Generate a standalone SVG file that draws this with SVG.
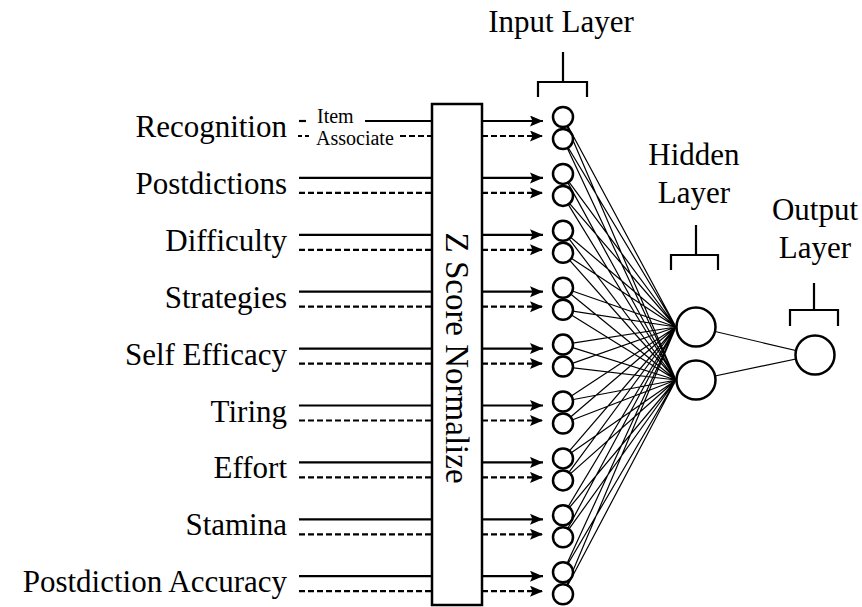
<svg xmlns="http://www.w3.org/2000/svg" width="862" height="607" viewBox="0 0 862 607">
<style>
text{font-family:"Liberation Serif","Times New Roman",serif;fill:#000}
.lbl{font-size:31px;text-anchor:end}
.ttl{font-size:31px;text-anchor:middle}
.sm{font-size:20px}
.in{stroke:#000;stroke-width:2.2;fill:none}
.dash{stroke-dasharray:6 3}
.arr{marker-end:url(#ah)}
.w{stroke:#000;stroke-width:1.2;fill:none}
.nd{fill:#fff;stroke:#000;stroke-width:2.5}
.br{fill:none;stroke:#000;stroke-width:2.2}
</style>
<defs>
<marker id="ah" markerUnits="userSpaceOnUse" markerWidth="14" markerHeight="12" refX="13" refY="5.5" orient="auto">
<path d="M0,0 L13,5.5 L0,11 L2.5,5.5 z" fill="#000"/>
</marker>
</defs>
<rect width="862" height="607" fill="#fff"/>

<g id="connectors">
<!-- input lines to Z box -->
<line class="in" x1="299" y1="121" x2="306" y2="121"/>
<line class="in" x1="365" y1="121" x2="433" y2="121"/>
<line class="in dash" x1="298" y1="136" x2="309" y2="136" style="stroke-dasharray:4 3"/>
<line class="in dash" x1="400" y1="136" x2="433" y2="136"/>
<line class="in" x1="299" y1="177.9" x2="433" y2="177.9"/>
<line class="in dash" x1="299" y1="192.9" x2="433" y2="192.9"/>
<line class="in" x1="299" y1="234.8" x2="433" y2="234.8"/>
<line class="in dash" x1="299" y1="249.8" x2="433" y2="249.8"/>
<line class="in" x1="299" y1="291.7" x2="433" y2="291.7"/>
<line class="in dash" x1="299" y1="306.7" x2="433" y2="306.7"/>
<line class="in" x1="299" y1="348.6" x2="433" y2="348.6"/>
<line class="in dash" x1="299" y1="363.6" x2="433" y2="363.6"/>
<line class="in" x1="299" y1="405.5" x2="433" y2="405.5"/>
<line class="in dash" x1="299" y1="420.5" x2="433" y2="420.5"/>
<line class="in" x1="299" y1="462.4" x2="433" y2="462.4"/>
<line class="in dash" x1="299" y1="477.4" x2="433" y2="477.4"/>
<line class="in" x1="299" y1="519.3" x2="433" y2="519.3"/>
<line class="in dash" x1="299" y1="534.3" x2="433" y2="534.3"/>
<line class="in" x1="299" y1="576.2" x2="433" y2="576.2"/>
<line class="in dash" x1="299" y1="591.2" x2="433" y2="591.2"/>
<!-- arrows Z box to input nodes -->
<line class="in arr" x1="482" y1="121" x2="543" y2="121"/>
<line class="in dash arr" x1="482" y1="136" x2="543" y2="136"/>
<line class="in arr" x1="482" y1="177.9" x2="543" y2="177.9"/>
<line class="in dash arr" x1="482" y1="192.9" x2="543" y2="192.9"/>
<line class="in arr" x1="482" y1="234.8" x2="543" y2="234.8"/>
<line class="in dash arr" x1="482" y1="249.8" x2="543" y2="249.8"/>
<line class="in arr" x1="482" y1="291.7" x2="543" y2="291.7"/>
<line class="in dash arr" x1="482" y1="306.7" x2="543" y2="306.7"/>
<line class="in arr" x1="482" y1="348.6" x2="543" y2="348.6"/>
<line class="in dash arr" x1="482" y1="363.6" x2="543" y2="363.6"/>
<line class="in arr" x1="482" y1="405.5" x2="543" y2="405.5"/>
<line class="in dash arr" x1="482" y1="420.5" x2="543" y2="420.5"/>
<line class="in arr" x1="482" y1="462.4" x2="543" y2="462.4"/>
<line class="in dash arr" x1="482" y1="477.4" x2="543" y2="477.4"/>
<line class="in arr" x1="482" y1="519.3" x2="543" y2="519.3"/>
<line class="in dash arr" x1="482" y1="534.3" x2="543" y2="534.3"/>
<line class="in arr" x1="482" y1="576.2" x2="543" y2="576.2"/>
<line class="in dash arr" x1="482" y1="591.2" x2="543" y2="591.2"/>
<!-- input to hidden weights -->
<path class="w" d="M563,117L676,327M563,117L676,380M563,139L676,327M563,139L676,380M563,173.9L676,327M563,173.9L676,380M563,195.9L676,327M563,195.9L676,380M563,230.8L676,327M563,230.8L676,380M563,252.8L676,327M563,252.8L676,380M563,287.7L676,327M563,287.7L676,380M563,309.7L676,327M563,309.7L676,380M563,344.6L676,327M563,344.6L676,380M563,366.6L676,327M563,366.6L676,380M563,401.5L676,327M563,401.5L676,380M563,423.5L676,327M563,423.5L676,380M563,458.4L676,327M563,458.4L676,380M563,480.4L676,327M563,480.4L676,380M563,515.3L676,327M563,515.3L676,380M563,537.3L676,327M563,537.3L676,380M563,572.2L676,327M563,572.2L676,380M563,594.2L676,327M563,594.2L676,380"/>
<!-- hidden to output -->
<path class="w" d="M696,327L815,355M696,380L815,355"/>
</g>

<g id="labels">
<text class="lbl" x="287" y="137">Recognition</text>
<text class="sm" x="317" y="123">Item</text>
<text class="sm" x="316" y="145">Associate</text>
<text class="lbl" x="287" y="193.9">Postdictions</text>
<text class="lbl" x="287" y="250.8">Difficulty</text>
<text class="lbl" x="287" y="307.7">Strategies</text>
<text class="lbl" x="287" y="364.6">Self Efficacy</text>
<text class="lbl" x="287" y="421.5">Tiring</text>
<text class="lbl" x="287" y="478.4">Effort</text>
<text class="lbl" x="287" y="535.3">Stamina</text>
<text class="lbl" x="287" y="592.2">Postdiction Accuracy</text>
</g>

<g id="zscore">
<rect x="432" y="104" width="50" height="501" fill="#fff" stroke="#000" stroke-width="2.5"/>
<text class="ttl" style="font-size:33px" transform="translate(446,358) rotate(90)">Z Score Normalize</text>
</g>

<g id="input-layer">
<text class="ttl" x="561" y="32">Input Layer</text>
<path class="br" d="M563,52V82M538,97V82H587V97"/>
<g id="in1"><circle class="nd" cx="563" cy="117" r="10"/></g>
<g id="in2"><circle class="nd" cx="563" cy="139" r="10"/></g>
<g id="in3"><circle class="nd" cx="563" cy="173.9" r="10"/></g>
<g id="in4"><circle class="nd" cx="563" cy="195.9" r="10"/></g>
<g id="in5"><circle class="nd" cx="563" cy="230.8" r="10"/></g>
<g id="in6"><circle class="nd" cx="563" cy="252.8" r="10"/></g>
<g id="in7"><circle class="nd" cx="563" cy="287.7" r="10"/></g>
<g id="in8"><circle class="nd" cx="563" cy="309.7" r="10"/></g>
<g id="in9"><circle class="nd" cx="563" cy="344.6" r="10"/></g>
<g id="in10"><circle class="nd" cx="563" cy="366.6" r="10"/></g>
<g id="in11"><circle class="nd" cx="563" cy="401.5" r="10"/></g>
<g id="in12"><circle class="nd" cx="563" cy="423.5" r="10"/></g>
<g id="in13"><circle class="nd" cx="563" cy="458.4" r="10"/></g>
<g id="in14"><circle class="nd" cx="563" cy="480.4" r="10"/></g>
<g id="in15"><circle class="nd" cx="563" cy="515.3" r="10"/></g>
<g id="in16"><circle class="nd" cx="563" cy="537.3" r="10"/></g>
<g id="in17"><circle class="nd" cx="563" cy="572.2" r="10"/></g>
<g id="in18"><circle class="nd" cx="563" cy="594.2" r="10"/></g>
</g>

<g id="hidden-layer">
<text class="ttl" x="694" y="165">Hidden</text>
<text class="ttl" x="694" y="203">Layer</text>
<path class="br" d="M696,225V255M671,270V255H718V270"/>
<g id="h1"><circle class="nd" cx="696" cy="327" r="19.5"/></g>
<g id="h2"><circle class="nd" cx="696" cy="380" r="19.5"/></g>
</g>

<g id="output-layer">
<text class="ttl" x="815" y="220">Output</text>
<text class="ttl" x="815" y="258">Layer</text>
<path class="br" d="M814,283V310M790,326V310H838V326"/>
<g id="out1"><circle class="nd" cx="815" cy="355" r="19.5"/></g>
</g>
</svg>
